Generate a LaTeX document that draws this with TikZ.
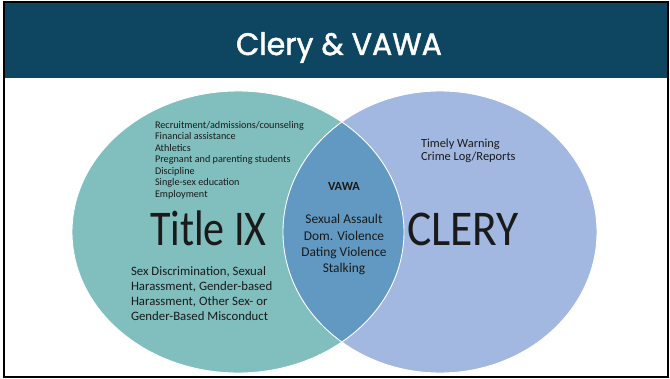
\documentclass[tikz,border=0pt]{standalone}
\usepackage{fontspec}
\setmainfont{Carlito}
\newfontfamily\titlefont[FakeBold=1.6]{Poppins}
\definecolor{headerblue}{HTML}{0E4560}
\definecolor{titleteal}{HTML}{80BFBE}
\definecolor{cleryblue}{HTML}{A2B8E0}
\definecolor{vawablue}{HTML}{6199C2}
\definecolor{inktext}{HTML}{1A1A1A}
\begin{document}
\begin{tikzpicture}[x=1pt,y=-1pt,
  every node/.style={inner sep=0pt,outer sep=0pt,text=inktext},
  listtext/.style={anchor=base west,font=\fontsize{10.2}{11.5}\selectfont},
  bodytext/.style={anchor=base west,font=\fontsize{12.8}{14.8}\selectfont},
  lenstext/.style={anchor=base,font=\fontsize{13.4}{16.2}\selectfont},
  bigtext/.style={anchor=base west,font=\fontsize{50}{50}\selectfont},
  rim/.style={draw=white,line width=0.9pt}]
\useasboundingbox (0,0) rectangle (670,379);
\fill[white] (0,0) rectangle (670,379);

% header band
\fill[headerblue] (4,2) rectangle (668,78);
\node[anchor=base,text=white,font=\titlefont\fontsize{31}{31}\selectfont] (title) at (339,55) {\scalebox{0.97}[1]{Clery \& VAWA}};

% Venn circles
\fill[titleteal] (238,232) ellipse [x radius=166,y radius=141];
\fill[cleryblue] (440,232) ellipse [x radius=157,y radius=141];
\begin{scope}
  \clip (238,232) ellipse [x radius=166,y radius=141];
  \fill[vawablue] (440,232) ellipse [x radius=157,y radius=141];
\end{scope}
\draw[rim] (238,232) ellipse [x radius=166,y radius=141];
\draw[rim] (440,232) ellipse [x radius=157,y radius=141];

% outer frame
\draw[black,line width=1.6pt] (4,2) rectangle (668,377);

% Title IX side
\node[listtext] (t1) at (155,128.3) {Recruitment/admissions/counseling};
\node[listtext] (t2) at (155,139.8) {Financial assistance};
\node[listtext] (t3) at (155,151.3) {Athletics};
\node[listtext] (t4) at (155,162.8) {Pregnant and parenting students};
\node[listtext] (t5) at (155,174.3) {Discipline};
\node[listtext] (t6) at (155,185.8) {Single-sex education};
\node[listtext] (t7) at (155,197.3) {Employment};
\node[bigtext] (titleix) at (150,246) {\scalebox{0.84}[1]{Title IX}};
\node[bodytext] (b1) at (131,275.7) {Sex Discrimination, Sexual};
\node[bodytext] (b2) at (131,290.5) {Harassment, Gender-based};
\node[bodytext] (b3) at (131,305.3) {Harassment, Other Sex- or};
\node[bodytext] (b4) at (131,320.1) {Gender-Based Misconduct};

% overlap
\node[anchor=base,font=\fontsize{12.4}{12.4}\selectfont\bfseries] (vawa) at (344,190.7) {VAWA};
\node[lenstext] (v1) at (344,224) {Sexual Assault};
\node[lenstext] (v2) at (344,240.2) {Dom. Violence};
\node[lenstext] (v3) at (344,256.4) {Dating Violence};
\node[lenstext] (v4) at (344,272.6) {Stalking};

% Clery side
\node[anchor=base west,font=\fontsize{12.4}{13.4}\selectfont] (c1) at (421,147.3) {Timely Warning};
\node[anchor=base west,font=\fontsize{12.4}{13.4}\selectfont] (c2) at (421,160.7) {Crime Log/Reports};
\node[bigtext] (clery) at (407,246) {\scalebox{0.91}[1]{CLERY}};
\end{tikzpicture}
\end{document}
